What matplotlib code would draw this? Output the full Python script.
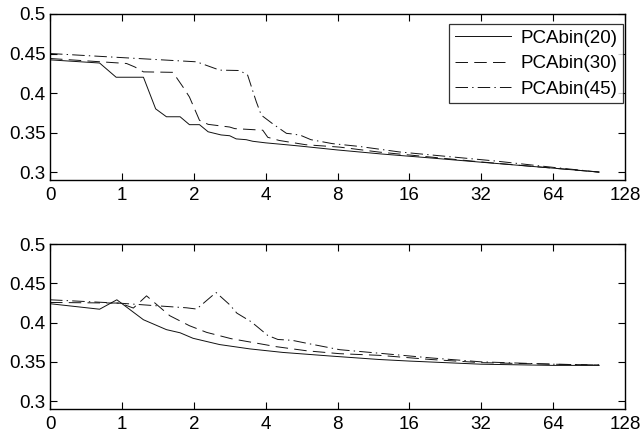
import numpy as np
import matplotlib.pyplot as plt

plt.rcParams['font.family'] = ['Liberation Sans', 'DejaVu Sans']
plt.rcParams['lines.scale_dashes'] = False

# x axis: equally spaced ticks 0, 1, 2, 4, ... 128 (positions are tick index units)
tick_labels = ['0', '1', '2', '4', '8', '16', '32', '64', '128']
legend_names = ['PCAbin(20)', 'PCAbin(30)', 'PCAbin(45)']

# top panel
top20_x = [0, 0.69, 0.92, 1.30, 1.47, 1.62, 1.81, 1.94, 2.08, 2.20, 2.38, 2.50, 2.59, 2.73, 2.82,
           3.00, 3.24, 3.47, 4.00, 4.60, 5.28, 6.00, 7.00, 7.64]
top20_y = [0.442, 0.438, 0.420, 0.420, 0.380, 0.370, 0.370, 0.360, 0.360, 0.351, 0.347, 0.346, 0.342,
           0.341, 0.339, 0.337, 0.335, 0.333, 0.328, 0.323, 0.318, 0.3125, 0.305, 0.300]

top30_x = [0, 1.065, 1.18, 1.30, 1.71, 1.85, 1.94, 2.08, 2.20, 2.50, 2.57, 2.96, 3.03, 3.19, 3.56,
           4.03, 4.58, 5.30, 6.00, 7.00, 7.64]
top30_y = [0.4437, 0.4374, 0.433, 0.4268, 0.4262, 0.4077, 0.395, 0.3655, 0.3604, 0.357, 0.355, 0.353,
           0.344, 0.340, 0.3346, 0.3316, 0.3253, 0.319, 0.3128, 0.305, 0.300]

top45_x = [0, 0.97, 2.04, 2.36, 2.64, 2.75, 2.87, 2.94, 3.10, 3.29, 3.40, 3.50, 3.63, 3.93, 4.30,
           4.86, 5.50, 6.20, 7.00, 7.64]
top45_y = [0.450, 0.445, 0.4395, 0.429, 0.4285, 0.4226, 0.389, 0.372, 0.361, 0.349, 0.348, 0.346,
           0.341, 0.336, 0.3325, 0.3255, 0.320, 0.314, 0.306, 0.300]

# bottom panel
bot20_x = [0, 0.69, 0.93, 1.30, 1.62, 1.81, 1.99, 2.36, 2.78, 3.24, 3.89, 4.58, 5.00, 6.00, 7.00, 7.64]
bot20_y = [0.424, 0.417, 0.429, 0.4036, 0.391, 0.387, 0.380, 0.372, 0.3665, 0.362, 0.3575, 0.353,
           0.351, 0.347, 0.3455, 0.3455]

bot30_x = [0, 0.97, 1.16, 1.343, 1.667, 1.94, 2.18, 2.52, 2.80, 3.15, 3.58, 4.03, 4.58, 5.30, 6.00,
           7.00, 7.64]
bot30_y = [0.4256, 0.4248, 0.4185, 0.434, 0.4087, 0.396, 0.3875, 0.3795, 0.375, 0.3693, 0.364, 0.3604,
           0.3583, 0.353, 0.349, 0.347, 0.346]

bot45_x = [0, 1.00, 1.48, 1.90, 2.04, 2.31, 2.50, 2.60, 2.80, 3.03, 3.17, 3.37, 3.58, 4.03, 4.58,
           5.30, 6.00, 7.00, 7.64]
bot45_y = [0.429, 0.4245, 0.4214, 0.4188, 0.4172, 0.4383, 0.4227, 0.412, 0.401, 0.3836, 0.3785,
           0.3774, 0.3735, 0.3655, 0.361, 0.355, 0.350, 0.347, 0.346]

styles = [dict(ls='-'), dict(dashes=(9, 4.5)), dict(dashes=(9, 3, 1, 3))]

fig = plt.figure(figsize=(6.43, 4.37), dpi=100)
ax1 = fig.add_axes([50 / 643, 1 - 180 / 437, 575 / 643, 166 / 437])
ax2 = fig.add_axes([50 / 643, 1 - 409 / 437, 575 / 643, 165 / 437])

panels = [(ax1, [(top20_x, top20_y), (top30_x, top30_y), (top45_x, top45_y)]),
          (ax2, [(bot20_x, bot20_y), (bot30_x, bot30_y), (bot45_x, bot45_y)])]

for ax, series in panels:
    for (xs, ys), st, name in zip(series, styles, legend_names):
        ax.plot(xs, ys, color='#111111', lw=0.7, label=name, **st)
    ax.set_xlim(0, 8)
    ax.set_ylim(0.29, 0.5)
    ax.set_xticks(range(len(tick_labels)))
    ax.set_xticklabels(tick_labels)
    ax.set_yticks([0.3, 0.35, 0.4, 0.45, 0.5])
    ax.set_yticklabels(['0.3', '0.35', '0.4', '0.45', '0.5'])
    ax.tick_params(direction='in', top=True, right=True, length=5, width=0.8, labelsize=13.5)
    ax.tick_params(axis='x', pad=5)
    ax.tick_params(axis='y', pad=3)
    for s in ax.spines.values():
        s.set_linewidth(1.0)

leg = ax1.legend(loc='upper right', bbox_to_anchor=(0.9965, 0.94), fontsize=13.5, frameon=True,
                 fancybox=False, edgecolor='black', handlelength=3.0, borderaxespad=0,
                 labelspacing=0.45, borderpad=0.3, handletextpad=0.5)
leg.get_frame().set_linewidth(0.9)

fig.savefig('out.png', dpi=100)
